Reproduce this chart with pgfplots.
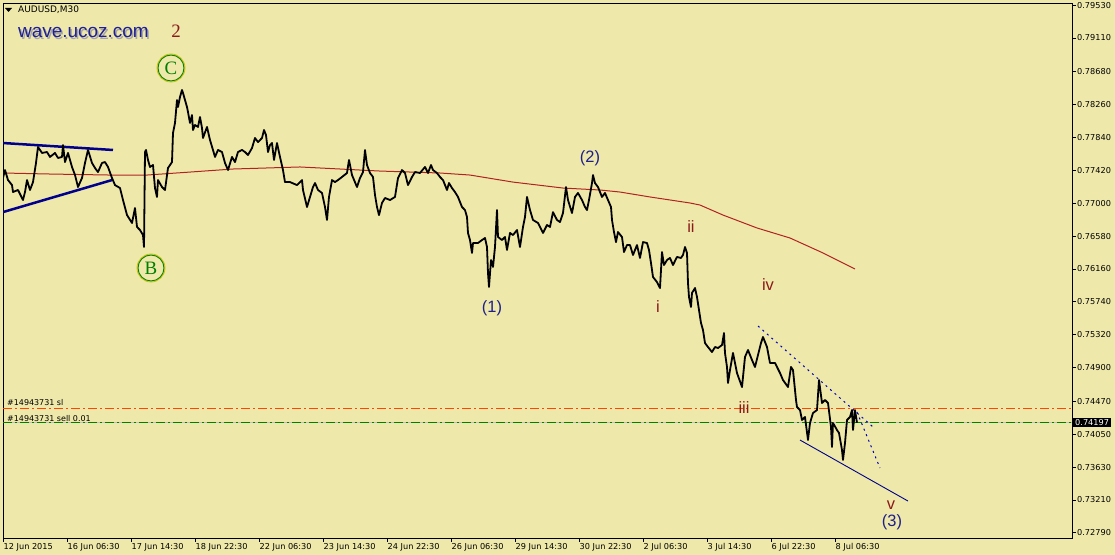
\documentclass[border=0pt]{standalone}
\usepackage{pgfplots}
\pgfplotsset{compat=1.18}
\usepackage{pgfplotstable}
\usepackage{fontspec}
\setmainfont{DejaVu Sans}
\newfontfamily\lsans{Liberation Sans}
\newfontfamily\lserif{Liberation Serif}

\definecolor{bg}{RGB}{238,232,170}
\definecolor{ma}{RGB}{178,34,34}
\definecolor{navyline}{RGB}{0,0,140}
\definecolor{dotblue}{RGB}{0,0,200}
\definecolor{slred}{RGB}{255,69,0}
\definecolor{opengreen}{RGB}{0,128,0}
\definecolor{bidgrey}{RGB}{192,192,192}
\definecolor{wavered}{RGB}{139,26,26}
\definecolor{wavenavy}{RGB}{30,30,140}
\definecolor{ringgold}{RGB}{210,190,0}
\definecolor{brand}{RGB}{30,30,150}

% AUDUSD M30, x = bar position, y = price
\pgfplotstableread{
x y
3 0.77321
5 0.77423
8 0.77295
12 0.77231
13 0.77142
18 0.77168
23 0.77040
25 0.77142
27 0.77295
30 0.77168
33 0.77269
36 0.77513
38 0.77717
42 0.77641
47 0.77653
50 0.77590
55 0.77641
58 0.77577
62 0.77590
63 0.77742
65 0.77525
68 0.77641
72 0.77462
75 0.77359
78 0.77206
82 0.77321
85 0.77513
88 0.77679
92 0.77513
95 0.77449
98 0.77397
102 0.77513
105 0.77525
108 0.77462
112 0.77321
115 0.77231
120 0.77193
123 0.77040
127 0.76848
132 0.76747
135 0.76938
137 0.76696
140 0.76657
143 0.76593
144 0.76440
145 0.77653
146 0.77679
148 0.77551
150 0.77462
153 0.77487
155 0.77193
157 0.77079
158 0.77295
162 0.77206
165 0.77168
168 0.77449
172 0.77525
173 0.77896
175 0.78024
177 0.78317
178 0.78228
180 0.78356
182 0.78445
183 0.78407
185 0.78317
187 0.78228
188 0.78163
190 0.78024
192 0.78125
193 0.77934
195 0.77998
198 0.77973
200 0.78100
202 0.77960
203 0.77832
207 0.77973
210 0.77806
213 0.77679
215 0.77590
218 0.77679
222 0.77653
225 0.77513
228 0.77423
232 0.77590
235 0.77525
238 0.77653
242 0.77679
245 0.77653
248 0.77615
252 0.77704
255 0.77832
258 0.77780
262 0.77832
264 0.77934
266 0.77870
268 0.77653
270 0.77742
272 0.77768
274 0.77551
277 0.77768
280 0.77590
283 0.77423
285 0.77269
290 0.77269
297 0.77231
302 0.77295
303 0.77168
307 0.76951
310 0.77079
313 0.77206
315 0.77257
318 0.77168
322 0.77130
325 0.76951
327 0.76785
329 0.77079
332 0.77295
335 0.77269
338 0.77295
342 0.77334
347 0.77385
349 0.77551
352 0.77359
357 0.77206
360 0.77321
363 0.77397
365 0.77679
367 0.77487
370 0.77385
373 0.77334
375 0.77104
377 0.76951
379 0.76848
382 0.77002
385 0.77066
390 0.77040
395 0.77079
398 0.77321
402 0.77423
405 0.77385
408 0.77231
412 0.77334
415 0.77397
420 0.77385
425 0.77462
428 0.77385
431 0.77487
433 0.77423
437 0.77385
440 0.77334
443 0.77295
447 0.77168
449 0.77257
452 0.77193
455 0.77142
458 0.77079
462 0.76951
465 0.76912
467 0.76823
468 0.76619
470 0.76529
472 0.76364
473 0.76491
478 0.76491
482 0.76529
485 0.76555
487 0.76440
488 0.76108
489 0.75929
491 0.76274
493 0.76185
495 0.76440
497 0.76912
498 0.76568
502 0.76529
505 0.76568
507 0.76402
510 0.76619
513 0.76593
517 0.76657
520 0.76440
523 0.76696
525 0.76823
527 0.77079
530 0.76912
533 0.76785
538 0.76747
543 0.76619
547 0.76721
550 0.76696
553 0.76886
557 0.76785
560 0.76759
563 0.76874
566 0.77206
568 0.77040
572 0.76874
575 0.77079
578 0.77130
582 0.77040
585 0.76951
587 0.76912
589 0.77040
592 0.77257
593 0.77359
595 0.77257
598 0.77206
602 0.77079
605 0.77130
608 0.77040
611 0.76951
612 0.76785
614 0.76631
616 0.76503
618 0.76631
622 0.76568
624 0.76376
627 0.76465
630 0.76465
633 0.76338
637 0.76465
640 0.76300
643 0.76503
647 0.76491
649 0.76402
651 0.76236
652 0.76146
653 0.76057
657 0.75992
660 0.75916
662 0.76376
664 0.76210
667 0.76274
670 0.76300
673 0.76210
677 0.76313
681 0.76300
683 0.76338
685 0.76440
687 0.76364
688 0.75980
689 0.75802
691 0.75674
692 0.75853
695 0.75916
697 0.75802
699 0.75635
701 0.75470
703 0.75380
705 0.75214
708 0.75163
712 0.75099
715 0.75163
718 0.75150
722 0.75188
724 0.75342
725 0.75087
727 0.74908
728 0.74703
730 0.74869
733 0.75087
737 0.74831
742 0.74652
745 0.75036
748 0.75125
752 0.74997
755 0.74908
758 0.75061
761 0.75214
763 0.75291
767 0.75163
770 0.74959
775 0.74959
780 0.74831
783 0.74741
788 0.74652
791 0.74908
793 0.74869
796 0.74486
797 0.74397
800 0.74358
802 0.74231
805 0.74269
808 0.73975
810 0.74193
813 0.74320
817 0.74358
819 0.74741
822 0.74448
825 0.74486
828 0.74448
831 0.74142
832 0.73886
833 0.74193
837 0.74103
839 0.74065
842 0.73848
843 0.73720
845 0.73937
847 0.74231
850 0.74269
852 0.74358
853 0.74103
855 0.74358
857 0.74197
}\pricedata

% moving average (red)
\pgfplotstableread{
x y
3 0.77385
50 0.77372
110 0.77359
147 0.77359
190 0.77397
233 0.77436
300 0.77462
380 0.77410
440 0.77385
470 0.77359
513 0.77269
563 0.77193
600 0.77168
620 0.77142
650 0.77079
690 0.77002
700 0.76976
723 0.76848
757 0.76683
790 0.76555
823 0.76364
855 0.76159
}\madata

\begin{document}
\begin{tikzpicture}
\fill[bg] (0,0) rectangle (1115bp,555bp);
\fill[black] (5bp,547bp) -- (12bp,547bp) -- (8.5bp,543bp) -- cycle;
\node[anchor=west, inner sep=0pt, font=\fontsize{9}{10}\selectfont] at (18bp,545bp) {AUDUSD,M30};
\node[anchor=west, inner sep=0pt, text=black!35, font=\lsans\fontsize{19}{22}\selectfont] at (19.5bp,520.5bp) {wave.ucoz.com};
\node[anchor=west, inner sep=0pt, text=brand, font=\lsans\fontsize{19}{22}\selectfont] at (18bp,522bp) {wave.ucoz.com};

\begin{axis}[
  at={(3bp,17bp)}, anchor=south west,
  scale only axis, width=1069bp, height=535bp,
  xmin=3, xmax=1072, ymin=0.72724, ymax=0.79556,
  axis line style={black, line width=0.8bp},
  tick align=outside, major tick length=4bp,
  tick style={black, line width=0.8bp},
  xtick pos=bottom, ytick pos=right, yticklabel pos=right,
  scaled y ticks=false,
  xtick={3,67,131,195,259,323,387,451,515,579,643,707,771,835},
  xticklabels={12 Jun 2015, 16 Jun 06:30, 17 Jun 14:30, 18 Jun 22:30,
    22 Jun 06:30, 23 Jun 14:30, 24 Jun 22:30, 26 Jun 06:30, 29 Jun 14:30,
    30 Jun 22:30, 2 Jul 06:30, 3 Jul 14:30, 6 Jul 22:30, 8 Jul 06:30},
  xticklabel style={anchor=north west, inner sep=0pt, yshift=-1.5bp, xshift=0.5bp,
    font=\fontsize{8.2}{9}\selectfont},
  ytick={0.7279,0.7321,0.7363,0.7405,0.7447,0.7490,0.7532,0.7574,0.7616,
    0.7658,0.7700,0.7742,0.7784,0.7826,0.7868,0.7911,0.7953},
  yticklabels={0.72790,0.73210,0.73630,0.74050,0.74470,0.74900,0.75320,
    0.75740,0.76160,0.76580,0.77000,0.77420,0.77840,0.78260,0.78680,
    0.79110,0.79530},
  yticklabel style={anchor=west, inner sep=0pt, xshift=1bp,
    font=\fontsize{8.2}{9}\selectfont},
]
% order levels
\addplot[slred, line width=1bp, dash pattern=on 9bp off 3bp on 2bp off 3bp]
  coordinates {(3,0.74384) (1072,0.74384)};
\addplot[bidgrey, line width=1bp] coordinates {(3,0.74197) (1072,0.74197)};
\addplot[opengreen, line width=1bp, dash pattern=on 9bp off 3bp on 2bp off 3bp]
  coordinates {(3,0.74197) (1072,0.74197)};

% moving average
\addplot[ma, line width=1bp] table[x=x, y=y] {\madata};

% triangle lines
\addplot[navyline, line width=2.5bp] coordinates {(3,0.77768) (113,0.77679)};
\addplot[navyline, line width=2.5bp] coordinates {(3,0.76886) (112,0.77295)};
\addplot[navyline, line width=0.9bp] coordinates {(800,0.73975) (908,0.73196)};
\addplot[dotblue, line width=1bp, dash pattern=on 2bp off 4bp]
  coordinates {(758,0.75431) (873,0.74142)};
\addplot[dotblue, line width=1bp, dash pattern=on 2bp off 4bp]
  coordinates {(857,0.74332) (880,0.73618)};

% price
\addplot[black, line width=1.8bp, line join=round] table[x=x, y=y] {\pricedata};

% wave labels
\node[text=wavered, font=\lserif\fontsize{19}{20}\selectfont] at (axis cs:176,0.79198) {2};
\draw[ringgold, line width=0.8bp] (axis cs:171,0.78726) circle[radius=14bp];
\draw[opengreen, line width=0.9bp] (axis cs:171,0.78726) circle[radius=13bp];
\node[text=opengreen, font=\lserif\fontsize{19}{20}\selectfont] at (axis cs:171,0.78726) {C};
\draw[ringgold, line width=0.8bp] (axis cs:151,0.76172) circle[radius=14bp];
\draw[opengreen, line width=0.9bp] (axis cs:151,0.76172) circle[radius=13bp];
\node[text=opengreen, font=\lserif\fontsize{19}{20}\selectfont] at (axis cs:151,0.76172) {B};

\node[text=wavenavy, font=\lsans\fontsize{16.5}{18}\selectfont] at (axis cs:492,0.75661) {(1)};
\node[text=wavenavy, font=\lsans\fontsize{16.5}{18}\selectfont] at (axis cs:590,0.77577) {(2)};
\node[text=wavenavy, font=\lsans\fontsize{16.5}{18}\selectfont] at (axis cs:892,0.72928) {(3)};
\node[text=wavered, font=\lsans\fontsize{16.5}{18}\selectfont] at (axis cs:691,0.76696) {ii};
\node[text=wavered, font=\lsans\fontsize{16.5}{18}\selectfont] at (axis cs:658,0.75686) {i};
\node[text=wavered, font=\lsans\fontsize{16.5}{18}\selectfont] at (axis cs:768,0.75967) {iv};
\node[text=wavered, font=\lsans\fontsize{16.5}{18}\selectfont] at (axis cs:744,0.74384) {iii};
\node[text=wavered, font=\lsans\fontsize{16.5}{18}\selectfont] at (axis cs:891,0.73145) {v};

\node[anchor=west, inner sep=0pt, font=\fontsize{8}{9}\selectfont] at (axis cs:7,0.74460) {\#14943731 sl};
\node[anchor=west, inner sep=0pt, font=\fontsize{8}{9}\selectfont] at (axis cs:7,0.74244) {\#14943731 sell 0.01};
\end{axis}
% current bid box on the price scale
\node[anchor=west, fill=black, text=white, inner xsep=2bp, inner ysep=1.5bp,
  font=\fontsize{8.2}{9}\selectfont] at (1073bp,132.4bp) {0.74197};
\pgfresetboundingbox
\useasboundingbox (0,0) rectangle (1115bp,555bp);
\end{tikzpicture}
\end{document}
